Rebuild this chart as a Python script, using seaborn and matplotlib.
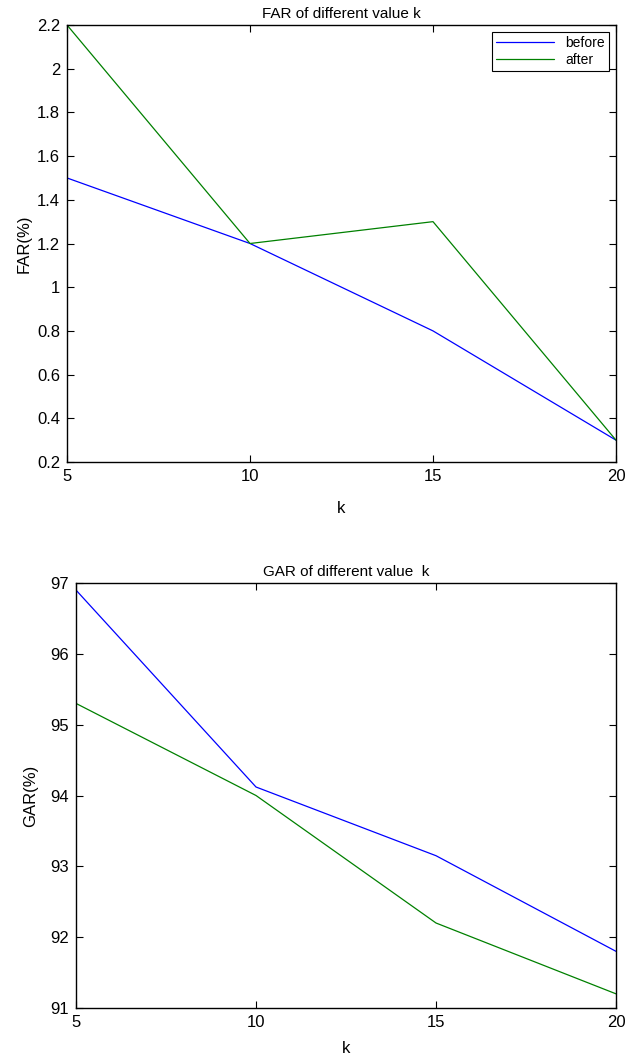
import matplotlib
matplotlib.use('Agg')
import matplotlib.pyplot as plt
import seaborn as sns
import pandas as pd

k_values = [5, 10, 15, 20]
far_before = [1.5, 1.2, 0.8, 0.3]
far_after = [2.2, 1.2, 1.3, 0.3]
gar_before = [96.9, 94.12, 93.15, 91.8]
gar_after = [95.3, 94.0, 92.2, 91.2]

far_ticks = [0.2, 0.4, 0.6, 0.8, 1, 1.2, 1.4, 1.6, 1.8, 2, 2.2]
far_ticklabels = ['0.2', '0.4', '0.6', '0.8', '1', '1.2', '1.4', '1.6', '1.8', '2', '2.2']
gar_ticks = [91, 92, 93, 94, 95, 96, 97]

sns.set_style('ticks')
plt.rcParams['font.family'] = ['Liberation Sans', 'DejaVu Sans']
plt.rcParams['text.color'] = 'black'
plt.rcParams['axes.labelcolor'] = 'black'
plt.rcParams['xtick.color'] = 'black'
plt.rcParams['ytick.color'] = 'black'
plt.rcParams['xtick.direction'] = 'in'
plt.rcParams['ytick.direction'] = 'in'
plt.rcParams['xtick.top'] = True
plt.rcParams['ytick.right'] = True

far_df = pd.DataFrame({'k': k_values * 2,
                       'value': far_before + far_after,
                       'series': ['before'] * 4 + ['after'] * 4})
gar_df = pd.DataFrame({'k': k_values * 2,
                       'value': gar_before + gar_after,
                       'series': ['before'] * 4 + ['after'] * 4})

palette = {'before': '#0000ff', 'after': '#008000'}

fig = plt.figure(figsize=(6.29, 10.6), dpi=100)
ax1 = fig.add_axes([67 / 629, 1 - 462 / 1060, (616 - 67) / 629, (462 - 25) / 1060])
ax2 = fig.add_axes([76 / 629, 1 - 1008 / 1060, (616 - 76) / 629, (1008 - 583) / 1060])

# FAR panel
sns.lineplot(data=far_df, x='k', y='value', hue='series', palette=palette,
             linewidth=0.9, ax=ax1)
ax1.set_xlim(5, 20)
ax1.set_ylim(0.2, 2.2)
ax1.set_xticks([5, 10, 15, 20])
ax1.set_yticks(far_ticks)
ax1.set_yticklabels(far_ticklabels)
ax1.set_title('FAR of different value k', fontsize=11, pad=5)
ax1.set_xlabel('k', fontsize=12, labelpad=12)
ax1.set_ylabel('FAR(%)', fontsize=12, labelpad=4)
leg = ax1.legend(loc='upper right', fontsize=10, frameon=True, fancybox=False,
                 edgecolor='black', borderpad=0.3, handlelength=4.2,
                 labelspacing=0.2, borderaxespad=0.5, framealpha=1)
leg.get_frame().set_linewidth(0.8)

# GAR panel
sns.lineplot(data=gar_df, x='k', y='value', hue='series', palette=palette,
             linewidth=0.9, ax=ax2, legend=False)
ax2.set_xlim(5, 20)
ax2.set_ylim(91, 97)
ax2.set_xticks([5, 10, 15, 20])
ax2.set_yticks(gar_ticks)
ax2.set_title('GAR of different value  k', fontsize=11, pad=5)
ax2.set_xlabel('k', fontsize=12, labelpad=8)
ax2.set_ylabel('GAR(%)', fontsize=12, labelpad=9)

for ax in (ax1, ax2):
    ax.tick_params(labelsize=12, length=5, width=0.8, pad=5)
    for s in ax.spines.values():
        s.set_linewidth(1.0)
        s.set_color('black')

fig.savefig('out.png', dpi=100)
